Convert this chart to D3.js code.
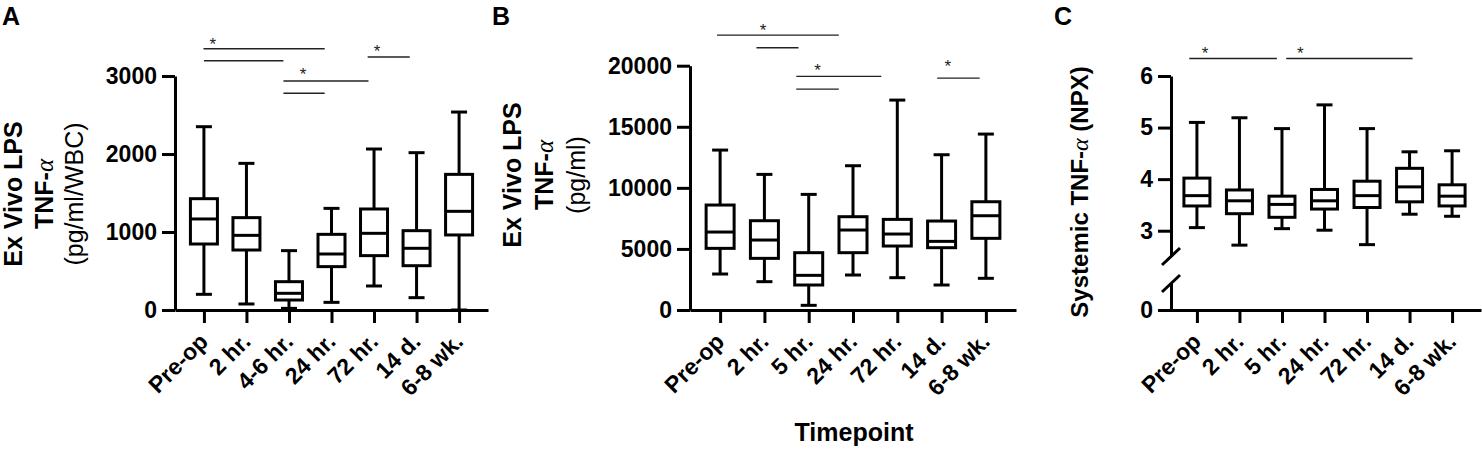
<!DOCTYPE html>
<html lang="en">
<head>
  <title>TNF-alpha by timepoint</title>
  <script src="https://d3js.org/d3.v7.min.js"></script>
  <style>
    * { box-sizing: border-box; margin: 0; padding: 0; }
    html, body { background: #fff; font-family: "Liberation Sans", Arial, sans-serif; }
    #chart { display: block; }
  </style>
</head>
<body>
  <svg id="chart" width="1482" height="449"></svg>

  <script>
  // timepoints
  const timesA  = ["Pre-op", "2 hr.", "4-6 hr.", "24 hr.", "72 hr.", "14 d.", "6-8 wk."];
  const timesBC = ["Pre-op", "2 hr.", "5 hr.", "24 hr.", "72 hr.", "14 d.", "6-8 wk."];

  // A: ex vivo LPS TNF-a (pg/ml/WBC)
  const wbcMin = [201, 77, 21, 98, 308, 158, 0];
  const wbcQ1  = [846, 769, 128, 556, 697, 568, 962];
  const wbcMed = [1167, 957, 214, 718, 983, 791, 1265];
  const wbcQ3  = [1427, 1184, 363, 970, 1295, 1017, 1739];
  const wbcMax = [2350, 1880, 761, 1303, 2064, 2017, 2538];

  // B: ex vivo LPS TNF-a (pg/ml)
  const mlMin = [2946, 2319, 382, 2864, 2646, 2046, 2594];
  const mlQ1  = [5046, 4228, 2046, 4692, 5237, 5101, 5867];
  const mlMed = [6383, 5728, 2837, 6547, 6219, 5619, 7717];
  const mlQ3  = [8593, 7310, 4692, 7638, 7419, 7283, 8863];
  const mlMax = [13093, 11102, 9465, 11811, 17185, 12711, 14403];

  // C: systemic TNF-a (NPX)
  const npxMin = [3.06, 2.72, 3.04, 3.01, 2.73, 3.32, 3.28];
  const npxQ1  = [3.48, 3.33, 3.26, 3.42, 3.45, 3.56, 3.48];
  const npxMed = [3.68, 3.58, 3.51, 3.58, 3.68, 3.85, 3.67];
  const npxQ3  = [4.02, 3.79, 3.67, 3.80, 3.96, 4.21, 3.89];
  const npxMax = [5.10, 5.19, 4.98, 5.44, 4.98, 4.53, 4.55];

  // significance bars: [from timepoint index, to timepoint index, level]
  const sigA = [[-0.01, 2.84, 3350], [0, 1.87, 3196], [1.87, 3.87, 2936], [1.87, 2.84, 2778], [3.85, 4.84, 3244]];
  const starA = [[0.21, 3453], [2.33, 3064], [4.07, 3359]];
  const sigB = [[-0.07, 2.68, 22504], [0.82, 1.77, 21465], [1.72, 3.64, 19124], [1.72, 2.68, 18085], [4.9, 5.86, 18985]];
  const starB = [[0.97, 23183], [2.2, 19910], [5.14, 20237]];
  const sigC = [[-0.18, 1.88, 6.34], [2.1, 5.07, 6.34]];
  const starC = [[0.19, 6.50], [2.43, 6.50]];

  const ticksA = [0, 1000, 2000, 3000];
  const ticksB = [0, 5000, 10000, 15000, 20000];
  const ticksC = [3, 4, 5, 6];

  const svg = d3.select("#chart");
  const AXIS_Y = 310;

  function boxes(g, x, y, cats, mn, q1, md, q3, mx, boxW) {
    const capW = 16;
    const rows = cats.map((c, i) => ({ c, mn: mn[i], q1: q1[i], md: md[i], q3: q3[i], mx: mx[i] }));
    const b = g.selectAll("g.box").data(rows).join("g")
      .attr("class", "box")
      .attr("transform", d => `translate(${x(d.c)},0)`)
      .attr("stroke", "#000").attr("stroke-width", 3).attr("fill", "none");
    b.append("line").attr("y1", d => y(d.mn)).attr("y2", d => y(d.mx));
    b.append("line").attr("x1", -capW / 2).attr("x2", capW / 2).attr("y1", d => y(d.mx)).attr("y2", d => y(d.mx));
    b.append("line").attr("x1", -capW / 2).attr("x2", capW / 2).attr("y1", d => y(d.mn)).attr("y2", d => y(d.mn));
    b.append("rect").attr("x", -boxW / 2).attr("width", boxW)
      .attr("y", d => y(d.q3)).attr("height", d => y(d.q1) - y(d.q3))
      .attr("fill", "#fff");
    b.append("line").attr("x1", -boxW / 2).attr("x2", boxW / 2).attr("y1", d => y(d.md)).attr("y2", d => y(d.md));
  }

  function sig(g, x, y, cats, bars, stars) {
    const pos = i => x(cats[0]) + i * x.step();
    g.selectAll("line.sig").data(bars).join("line")
      .attr("class", "sig")
      .attr("x1", d => pos(d[0])).attr("x2", d => pos(d[1]))
      .attr("y1", d => y(d[2])).attr("y2", d => y(d[2]))
      .attr("stroke", "#222").attr("stroke-width", 1.4);
    g.selectAll("text.star").data(stars).join("text")
      .attr("class", "star")
      .attr("x", d => pos(d[0])).attr("y", d => y(d[1]) + 9)
      .attr("text-anchor", "middle")
      .attr("font-size", 17).attr("fill", "#222")
      .text("*");
  }

  function xAxis(g, x) {
    const ax = g.append("g")
      .attr("transform", `translate(0,${AXIS_Y})`)
      .call(d3.axisBottom(x).tickSize(13).tickSizeOuter(0));
    ax.select(".domain").attr("stroke-width", 3);
    ax.selectAll(".tick line").attr("stroke-width", 3);
    ax.selectAll(".tick text")
      .attr("x", 0).attr("y", 0).attr("dy", 0)
      .attr("transform", "translate(5,33) rotate(-45)")
      .attr("text-anchor", "end")
      .attr("font-size", 23).attr("font-weight", "bold")
      .attr("font-family", "Liberation Sans, Arial, sans-serif")
      .attr("fill", "#000");
  }

  function yAxis(g, y, xPos, ticks, fmt) {
    const ax = g.append("g")
      .attr("transform", `translate(${xPos},0)`)
      .call(d3.axisLeft(y).tickValues(ticks).tickSize(13).tickPadding(5).tickSizeOuter(0).tickFormat(fmt || d3.format("d")));
    ax.select(".domain").attr("stroke-width", 3);
    ax.selectAll(".tick line").attr("stroke-width", 3);
    ax.selectAll(".tick text")
      .attr("font-size", 23).attr("font-weight", "bold")
      .attr("font-family", "Liberation Sans, Arial, sans-serif")
      .attr("fill", "#000");
    return ax;
  }

  function yLabel(g, lines, cy, size) {
    lines.forEach(l => {
      const t = g.append("text")
        .attr("transform", `translate(${l.x},${cy}) rotate(-90)`)
        .attr("text-anchor", "middle")
        .attr("font-size", size)
        .attr("font-weight", l.bold ? "bold" : "normal");
      l.parts.forEach(p => {
        const s = t.append("tspan").text(p.t);
        if (p.greek) s.attr("font-family", "Liberation Serif, serif").attr("font-weight", "normal").attr("font-style", "italic");
      });
    });
  }

  function letter(t, x) {
    svg.append("text").attr("x", x).attr("y", 25)
      .attr("font-size", 25).attr("font-weight", "bold").text(t);
  }

  // ---- panel A ----
  {
    const g = svg.append("g");
    const x = d3.scalePoint().domain(timesA).range([175, 488]).padding(0.68);
    const y = d3.scaleLinear().domain([0, 3000]).range([AXIS_Y, 76]);
    xAxis(g, x);
    yAxis(g, y, 175, ticksA);
    boxes(g, x, y, timesA, wbcMin, wbcQ1, wbcMed, wbcQ3, wbcMax, 27);
    sig(g, x, y, timesA, sigA, starA);
    yLabel(g, [
      { x: 22, bold: true, parts: [{ t: "Ex Vivo LPS" }] },
      { x: 53, bold: true, parts: [{ t: "TNF-" }, { t: "α", greek: true }] },
      { x: 83, bold: false, parts: [{ t: "(pg/ml/WBC)" }] }
    ], 194, 25);
    letter("A", 2);
  }

  // ---- panel B ----
  {
    const g = svg.append("g");
    const x = d3.scalePoint().domain(timesBC).range([690, 1016]).padding(0.68);
    const y = d3.scaleLinear().domain([0, 20000]).range([AXIS_Y, 65.7]);
    xAxis(g, x);
    yAxis(g, y, 690, ticksB);
    boxes(g, x, y, timesBC, mlMin, mlQ1, mlMed, mlQ3, mlMax, 28);
    sig(g, x, y, timesBC, sigB, starB);
    yLabel(g, [
      { x: 521, bold: true, parts: [{ t: "Ex Vivo LPS" }] },
      { x: 553, bold: true, parts: [{ t: "TNF-" }, { t: "α", greek: true }] },
      { x: 585, bold: false, parts: [{ t: "(pg/ml)" }] }
    ], 175, 25);
    svg.append("text").attr("x", 854).attr("y", 441)
      .attr("text-anchor", "middle").attr("font-size", 25).attr("font-weight", "bold")
      .text("Timepoint");
    letter("B", 492);
  }

  // ---- panel C (broken y axis) ----
  {
    const g = svg.append("g");
    const axX = 1171;
    const x = d3.scalePoint().domain(timesBC).range([1168, 1481]).padding(0.68);
    const y = d3.scaleLinear().domain([2.5, 6]).range([256.5, 76]);
    const yLow = d3.scaleLinear().domain([0, 0.5]).range([AXIS_Y, 283.5]);
    xAxis(g, x);
    yAxis(g, y, axX, ticksC);
    yAxis(g, yLow, axX, [0]);
    [y(2.5), yLow(0.5)].forEach(yy => {
      g.append("line")
        .attr("x1", axX - 9).attr("y1", yy + 8.5)
        .attr("x2", axX + 9).attr("y2", yy - 8.5)
        .attr("stroke", "#000").attr("stroke-width", 3);
    });
    boxes(g, x, y, timesBC, npxMin, npxQ1, npxMed, npxQ3, npxMax, 26);
    sig(g, x, y, timesBC, sigC, starC);
    yLabel(g, [
      { x: 1088, bold: true, parts: [{ t: "Systemic TNF-" }, { t: "α", greek: true }, { t: " (NPX)" }] }
    ], 192, 24);
    letter("C", 1054);
  }
  </script>
</body>
</html>
